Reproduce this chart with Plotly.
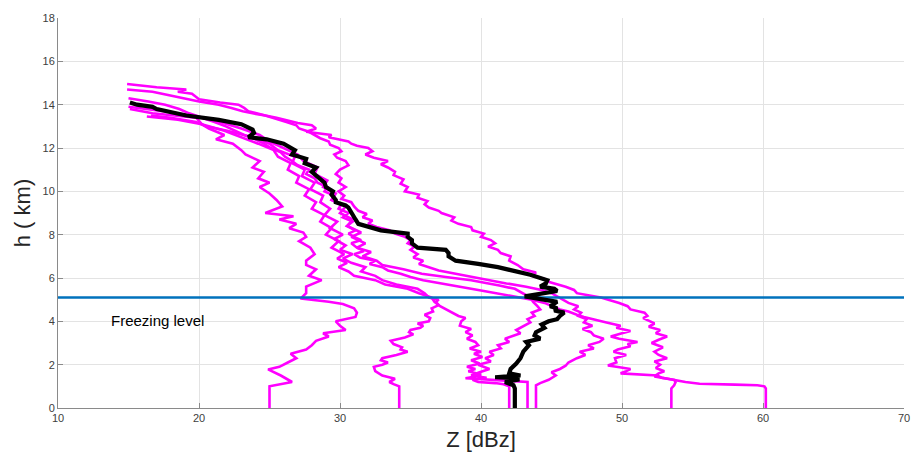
import plotly.graph_objects as go

# ---------------- data ----------------
# black (mean) profile
mean_h = [0, 0.9, 1.05, 1.2, 1.3, 1.37, 1.42, 1.5, 1.6, 1.8, 2.05, 2.3, 2.6, 2.9, 3.05, 3.2, 3.35, 3.5, 3.7, 3.85,
          4.0, 4.1, 4.25, 4.4, 4.5, 4.6, 4.7, 4.9, 5.15, 5.3, 5.4, 5.5, 5.6, 5.75, 5.9, 6.15, 6.35, 6.5, 6.65, 6.8,
          7.0, 7.15, 7.3, 7.4, 7.6, 7.75, 7.9, 8.05, 8.2, 8.35, 8.5, 8.7, 9.0, 9.25, 9.35, 9.5, 9.6, 9.85, 10.0,
          10.2, 10.4, 10.6, 10.75, 10.9, 11.1, 11.3, 11.5, 11.7, 11.9, 12.2, 12.4, 12.5, 12.7, 12.85, 13.1, 13.3,
          13.5, 13.65, 13.8, 13.9, 14.0, 14.1]
mean_z = [42.4, 42.4, 42.3, 41.7, 42.6, 42.6, 41.0, 42.8, 42.0, 42.1, 42.5, 42.8, 43.0, 43.4, 43.2, 44.2, 43.8, 43.9,
          44.5, 44.3, 44.8, 45.4, 45.6, 45.9, 45.2, 45.4, 44.9, 45.4, 43.1, 44.5, 45.4, 45.2, 44.2, 44.6, 44.7, 43.5,
          42.2, 41.2, 39.8, 38.2, 37.7, 37.7, 37.5, 35.5, 35.1, 35.1, 34.8, 34.8, 32.9, 32.0, 31.3, 31.1, 30.8, 30.6,
          30.4, 29.7, 29.7, 29.4, 29.5, 29.0, 28.9, 28.5, 28.3, 28.0, 28.3, 27.5, 27.6, 26.6, 26.8, 26.0, 24.8, 23.5,
          23.9, 23.8, 23.0, 21.4, 19.1, 18.0, 17.0, 16.7, 15.6, 15.1]

# magenta profiles
p1_h = [0, 1.0, 1.2, 1.5, 1.78, 1.9, 2.1, 2.3, 2.5, 2.7, 2.9, 3.1, 3.3, 3.45, 3.6, 3.8, 4.0, 4.2, 4.4, 4.6, 4.8, 4.9,
        5.05, 5.3, 5.6, 5.9, 6.1, 6.4, 6.6, 6.8, 7.1, 7.4, 7.7, 7.9, 8.1, 8.3, 8.5, 8.7, 8.85, 9.0, 9.3, 9.6, 9.9,
        10.2, 10.4, 10.6, 10.9, 11.1, 11.4, 11.7, 11.9, 12.2, 12.4, 12.6, 12.9, 13.1, 13.4, 13.5, 13.6, 13.8]
p1_z = [25.0, 25.0, 26.6, 25.8, 24.9, 25.7, 26.3, 26.9, 26.5, 27.6, 28.0, 28.3, 29.2, 28.8, 30.4, 30.0, 29.7, 31.1,
        31.2, 31.0, 30.2, 29.2, 27.2, 27.6, 27.6, 28.7, 27.8, 28.3, 27.6, 27.6, 28.2, 27.9, 27.1, 27.6, 27.4, 26.4,
        26.9, 25.7, 26.7, 24.7, 25.9, 25.5, 25.0, 24.3, 25.0, 24.2, 24.6, 23.8, 24.3, 23.3, 23.0, 22.4, 21.2, 21.8,
        20.7, 20.2, 19.8, 18.0, 16.7, 15.1]

p2_h = [0, 1.0, 1.1, 1.2, 1.35, 1.5, 1.7, 1.9, 2.0, 2.1, 2.2, 2.3, 2.45, 2.6, 2.7, 2.8, 2.95, 3.1, 3.25, 3.4, 3.5,
        3.6, 3.7, 3.8, 3.9, 4.0, 4.15, 4.3, 4.45, 4.6, 4.75, 4.9, 5.0, 5.1, 5.3, 5.5, 5.7, 5.9, 6.1, 6.3, 6.5, 6.7,
        6.9, 7.1, 7.3, 7.5, 7.8, 8.0, 8.3, 8.6, 8.9, 9.2, 9.5, 9.8, 10.1, 10.4, 10.7, 11.0, 11.3, 11.6, 11.9, 12.2,
        12.5, 12.8, 13.0, 13.2, 13.4, 13.5]
p2_z = [34.2, 34.2, 33.8, 33.5, 33.9, 33.0, 32.5, 32.4, 33.0, 33.4, 32.9, 33.0, 34.0, 34.8, 34.3, 34.4, 33.8, 33.6,
        34.6, 35.2, 34.9, 35.0, 35.7, 35.9, 35.5, 36.3, 36.4, 36.0, 36.6, 36.5, 37.0, 36.8, 37.0, 36.3, 36.0, 35.5,
        34.0, 33.0, 32.5, 31.5, 31.8, 30.8, 30.2, 30.9, 30.0, 30.4, 29.6, 30.2, 29.3, 29.8, 28.9, 29.3, 28.6, 28.8,
        27.9, 28.2, 27.3, 27.5, 26.6, 26.8, 25.6, 25.0, 23.8, 22.0, 20.5, 19.8, 18.0, 16.6]

p3_h = [0, 1.0, 1.1, 1.15, 1.2, 1.3, 1.4, 1.5, 1.65, 1.8, 2.0, 2.15, 2.3, 2.45, 2.6, 2.75, 2.9, 3.05, 3.2, 3.3, 3.45,
        3.6, 3.8, 3.95, 4.1, 4.25, 4.4, 4.55, 4.7, 4.9, 5.1, 5.3, 5.5, 5.65, 5.8, 5.9, 6.05, 6.2, 6.4, 6.6, 6.8,
        7.0, 7.2, 7.4, 7.6, 7.9, 8.1, 8.4, 8.7, 9.0, 9.3, 9.6, 9.9, 10.2, 10.5, 10.8, 11.1, 11.4, 11.7, 12.0, 12.3,
        12.6, 12.9, 13.2, 13.5, 13.7, 13.9]
p3_z = [42.0, 42.0, 41.6, 41.0, 39.8, 39.4, 40.4, 39.3, 39.9, 40.6, 39.8, 40.7, 40.3, 40.9, 40.6, 41.4, 41.2, 42.0,
        41.7, 42.1, 42.8, 42.5, 43.1, 43.5, 43.3, 43.8, 43.6, 44.2, 44.0, 43.7, 43.5, 43.0, 42.4, 41.3, 40.2, 39.3,
        37.5, 35.8, 34.5, 33.0, 32.6, 31.6, 32.2, 31.2, 31.8, 30.8, 31.5, 30.5, 30.9, 30.0, 30.4, 29.4, 29.7, 28.8,
        29.1, 28.2, 28.4, 27.4, 27.0, 26.0, 25.0, 24.3, 23.0, 21.5, 19.5, 17.5, 15.0]

p4_h = [0, 1.2, 1.25, 1.3, 1.37, 1.45, 1.55, 1.7, 1.8, 1.9, 2.05, 2.2, 2.35, 2.5, 2.6, 2.75, 2.9, 3.05, 3.2, 3.35,
        3.5, 3.65, 3.8, 4.0, 4.15, 4.25, 4.4, 4.55, 4.7, 4.9, 5.1, 5.3, 5.5, 5.7, 5.9, 6.1, 6.3, 6.5, 6.7, 6.9, 7.1,
        7.4, 7.7, 8.0, 8.3, 8.6, 8.9, 9.2, 9.5, 9.8, 10.1, 10.4, 10.7, 11.0, 11.3, 11.6, 11.9, 12.2, 12.5, 12.8,
        13.1, 13.3, 13.45]
p4_z = [43.3, 43.3, 42.0, 40.2, 38.9, 39.6, 40.0, 39.1, 39.6, 39.0, 39.9, 39.3, 40.1, 39.5, 40.0, 39.2, 39.8, 39.6,
        39.0, 39.4, 38.9, 39.3, 38.5, 38.6, 38.9, 38.4, 38.0, 37.5, 37.1, 36.7, 36.5, 35.6, 34.8, 33.2, 32.5, 31.0,
        30.6, 29.9, 30.5, 29.8, 30.3, 29.4, 29.9, 29.0, 29.4, 28.6, 28.9, 28.0, 28.3, 27.5, 27.8, 26.9, 27.1, 26.3,
        26.5, 25.6, 25.3, 24.2, 23.0, 21.8, 20.2, 18.5, 16.3]

p5_h = [0, 1.05, 1.15, 1.3, 1.5, 1.65, 1.8, 1.95, 2.1, 2.3, 2.45, 2.6, 2.75, 2.9, 3.05, 3.2, 3.35, 3.5, 3.65, 3.8,
        3.95, 4.1, 4.25, 4.4, 4.55, 4.7, 4.85, 5.0, 5.15, 5.3, 5.45, 5.6, 5.75, 5.9, 6.05, 6.2, 6.35, 6.5, 6.65, 6.8,
        6.95, 7.1, 7.3, 7.45, 7.6, 7.75, 7.9, 8.05, 8.2, 8.35, 8.5, 8.65, 8.8, 8.95, 9.1, 9.3, 9.5, 9.65, 9.8, 10.0,
        10.2, 10.4, 10.6, 10.8, 11.0, 11.2, 11.4, 11.55, 11.7, 11.85, 12.0, 12.15, 12.3, 12.45, 12.6, 12.75, 12.9,
        13.05, 13.2, 13.35, 13.5, 13.6, 13.7, 13.85, 14.0, 14.15, 14.3, 14.45, 14.6, 14.65, 14.7]
p5_z = [43.9, 43.9, 44.2, 44.8, 45.3, 45.0, 45.6, 46.0, 46.2, 46.8, 47.4, 47.0, 48.0, 47.6, 48.4, 48.7, 48.0, 47.8,
        47.2, 47.9, 47.3, 47.5, 46.9, 47.1, 46.6, 46.9, 46.2, 45.8, 45.5, 45.0, 44.3, 43.2, 41.8, 40.6, 39.3, 38.0,
        37.0, 36.3, 35.6, 35.9, 35.2, 35.5, 35.0, 35.3, 34.8, 35.0, 34.6, 33.9, 33.5, 32.6, 32.0, 32.3, 31.6, 31.9,
        31.3, 31.0, 30.8, 30.1, 30.3, 29.9, 30.4, 29.9, 30.1, 29.7, 30.0, 30.6, 30.4, 29.8, 29.6, 30.1, 29.9, 29.3,
        29.2, 28.6, 28.2, 27.8, 27.1, 26.9, 26.2, 25.4, 24.7, 23.8, 23.1, 22.3, 21.4, 20.0, 19.0, 17.8, 16.7, 15.8,
        14.9]

p6_h = [0, 0.9, 1.05, 1.2, 1.3, 1.4, 1.5, 1.55, 1.6, 1.7, 1.8, 1.9, 1.96, 2.1, 2.3, 2.45, 2.6, 2.7, 2.85, 2.95, 3.05,
        3.2, 3.3, 3.45, 3.55, 3.7, 3.8, 3.95, 4.1, 4.2, 4.3, 4.45, 4.55, 4.7, 4.85, 5.0, 5.1, 5.25, 5.4, 5.5, 5.65,
        5.8, 5.9, 6.05, 6.2, 6.35, 6.5, 6.65, 6.8, 6.95, 7.1, 7.25, 7.4, 7.6, 7.75, 7.9, 8.05, 8.2, 8.4, 8.6, 8.8,
        9.0, 9.2, 9.4, 9.6, 9.8, 10.0, 10.2, 10.4, 10.6, 10.8, 11.0, 11.2, 11.4, 11.6, 11.8, 12.0, 12.2, 12.4, 12.6,
        12.8, 13.0, 13.2, 13.4, 13.6, 13.8, 14.0, 14.15, 14.3]
p6_z = [53.5, 53.5, 53.7, 53.8, 53.7, 52.8, 52.5, 51.0, 49.9, 50.3, 50.6, 49.6, 49.0, 49.6, 49.5, 50.3, 49.4, 49.7,
        50.6, 50.4, 51.1, 49.8, 49.2, 50.0, 50.6, 49.6, 49.9, 48.9, 47.8, 47.3, 46.8, 46.2, 45.6, 45.0, 44.5, 43.6,
        42.8, 41.6, 40.2, 39.3, 38.0, 37.0, 35.9, 35.0, 34.3, 33.4, 33.0, 32.1, 32.5, 31.4, 31.0, 31.7, 31.2, 30.8,
        31.5, 31.0, 30.6, 31.1, 30.5, 30.9, 30.2, 30.6, 29.9, 30.1, 29.4, 29.6, 28.9, 29.1, 28.4, 28.2, 27.6, 27.8,
        27.0, 26.6, 26.1, 25.8, 25.1, 24.6, 24.0, 23.2, 22.6, 21.9, 21.1, 20.2, 19.3, 18.6, 17.6, 16.4, 15.0]

p7_h = [0, 0.9, 1.0, 1.05, 1.08, 1.12, 1.2, 1.3, 1.4, 1.46, 1.6, 1.7, 1.85, 2.0, 2.15, 2.3, 2.45, 2.6, 2.8, 3.0, 3.15,
        3.3, 3.45, 3.6, 3.75, 3.9, 4.0, 4.15, 4.25, 4.4, 4.55, 4.7, 4.85, 4.95, 5.1, 5.2, 5.3, 5.45, 5.6, 5.8, 5.95,
        6.1, 6.25, 6.4, 6.6, 6.8, 7.0, 7.15, 7.3, 7.45, 7.6, 7.75, 7.9, 8.05, 8.2, 8.35, 8.5, 8.65, 8.8, 9.0, 9.1,
        9.25, 9.4, 9.55, 9.7, 9.85, 10.0, 10.2, 10.35, 10.55, 10.75, 10.9, 11.1, 11.25, 11.4, 11.55, 11.7, 11.85,
        12.0, 12.1, 12.2, 12.3, 12.4, 12.5, 12.6, 12.75, 12.9, 13.05, 13.15, 13.3, 13.4, 13.5, 13.6, 13.7, 13.85,
        14.0, 14.1, 14.25, 14.35, 14.5, 14.6, 14.7, 14.8, 14.9, 14.95]
p7_z = [60.2, 60.2, 60.1, 59.6, 58.0, 55.5, 54.5, 53.6, 52.8, 52.3, 52.6, 53.0, 52.4, 52.7, 52.3, 53.2, 52.6, 52.3,
        52.9, 52.1, 52.6, 53.2, 52.4, 52.7, 51.9, 52.3, 52.0, 51.5, 51.8, 51.6, 50.6, 50.4, 49.8, 49.2, 48.5, 47.6,
        46.8, 46.6, 46.0, 44.9, 44.5, 43.6, 43.9, 43.0, 42.6, 42.0, 42.1, 41.4, 41.2, 40.5, 41.0, 40.7, 40.0, 40.2,
        39.4, 39.3, 38.4, 37.9, 38.1, 37.2, 37.0, 36.3, 36.0, 36.2, 35.5, 35.6, 34.6, 34.8, 34.3, 34.5, 33.8, 33.9,
        33.4, 32.9, 33.4, 32.4, 31.8, 32.3, 32.0, 31.2, 30.8, 30.6, 29.9, 29.2, 29.4, 27.6, 28.3, 28.0, 27.0, 26.2,
        25.5, 24.7, 24.0, 23.5, 23.2, 22.8, 21.5, 20.0, 19.8, 19.5, 18.5, 19.1, 17.0, 15.5, 14.9]

profiles_h = [p1_h, p2_h, p3_h, p4_h, p5_h, p6_h, p7_h]
profiles_z = [p1_z, p2_z, p3_z, p4_z, p5_z, p6_z, p7_z]

freezing_level = 5.1
x_range = [10, 70]
y_range = [0, 18]
x_ticks = [10, 20, 30, 40, 50, 60, 70]
y_ticks = [0, 2, 4, 6, 8, 10, 12, 14, 16, 18]

# ---------------- figure ----------------
fig = go.Figure()
for zs, hs in zip(profiles_z, profiles_h):
    fig.add_trace(go.Scatter(x=zs, y=hs, mode="lines",
                             line=dict(color="#FF00FF", width=2.6),
                             showlegend=False, hoverinfo="skip"))

fig.add_trace(go.Scatter(x=x_range, y=[freezing_level, freezing_level], mode="lines",
                         line=dict(color="#0072BD", width=2.6), showlegend=False))

fig.add_trace(go.Scatter(x=mean_z, y=mean_h, mode="lines",
                         line=dict(color="#000000", width=4.2), showlegend=False))

fig.add_annotation(x=13.6, y=4.05, text="Freezing level", showarrow=False,
                   xanchor="left", yanchor="middle",
                   font=dict(family="Liberation Sans, Arial, sans-serif", size=15, color="#000000"))

axis_common = dict(showgrid=True, gridcolor="#e3e3e3", gridwidth=1,
                   showline=True, linecolor="#8a8a8a", linewidth=1,
                   ticks="inside", ticklen=5, tickcolor="#8a8a8a",
                   zeroline=False, mirror=False,
                   tickfont=dict(family="Liberation Sans, Arial, sans-serif", size=11, color="#404040"))

fig.update_xaxes(range=x_range, tickvals=x_ticks, **axis_common,
                 title=dict(text="Z [dBz]", standoff=8,
                            font=dict(family="Liberation Sans, Arial, sans-serif", size=22, color="#262626")))
fig.update_yaxes(range=y_range, tickvals=y_ticks, **axis_common,
                 title=dict(text="h ( km)", standoff=5,
                            font=dict(family="Liberation Sans, Arial, sans-serif", size=22, color="#262626")))

fig.update_layout(width=922, height=460,
                  margin=dict(l=58, r=13, t=15, b=50),
                  paper_bgcolor="white", plot_bgcolor="white",
                  showlegend=False)

fig.write_html("out.html")
